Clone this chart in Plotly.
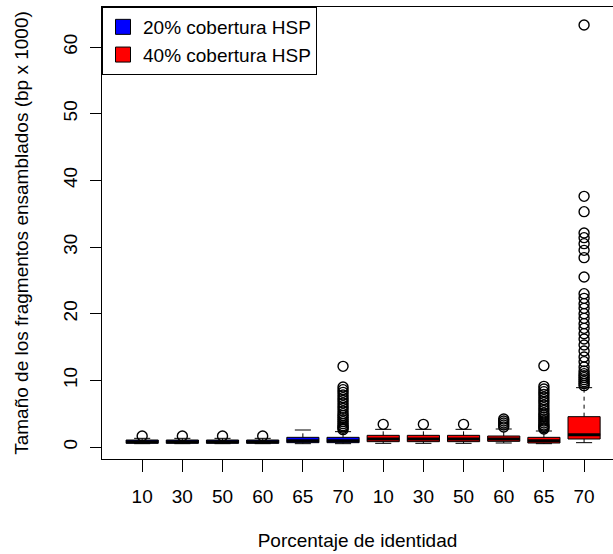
import plotly.graph_objects as go

# ---- data -------------------------------------------------------------
identity_labels = ["10", "30", "50", "60", "65", "70",
                   "10", "30", "50", "60", "65", "70"]
positions = list(range(1, 13))

series_names = ["20% cobertura HSP", "40% cobertura HSP"]
series_colors = ["#0000FF", "#FF0000"]

# box statistics (bp x 1000), 20% coverage
q1_20 = [0.55, 0.55, 0.55, 0.55, 0.65, 0.65]
med_20 = [0.80, 0.80, 0.80, 0.80, 0.95, 0.95]
q3_20 = [1.05, 1.05, 1.05, 1.05, 1.45, 1.45]
lo_20 = [0.50, 0.50, 0.50, 0.50, 0.50, 0.50]
hi_20 = [1.30, 1.30, 1.30, 1.30, 2.55, 2.30]

# box statistics (bp x 1000), 40% coverage
q1_40 = [0.80, 0.80, 0.80, 0.85, 0.60, 1.20]
med_40 = [1.20, 1.20, 1.20, 1.20, 0.95, 1.85]
q3_40 = [1.75, 1.75, 1.75, 1.65, 1.45, 4.55]
lo_40 = [0.55, 0.55, 0.55, 0.60, 0.50, 0.65]
hi_40 = [2.65, 2.65, 2.65, 2.70, 2.40, 8.90]

# outliers per box
out_20 = [
    [1.65], [1.65], [1.65], [1.65], [],
    [12.1, 9.0, 8.6, 8.2, 7.8, 7.4, 7.0, 6.6, 6.2, 5.8, 5.4, 5.0,
     4.7, 4.4, 4.1, 3.8, 3.5, 3.2, 3.0, 2.8, 2.6],
]
out_40 = [
    [3.4], [3.4], [3.4],
    [4.2, 3.9, 3.6, 3.3, 3.0],
    [12.2, 9.1, 8.7, 8.3, 7.9, 7.5, 7.1, 6.7, 6.3, 5.9, 5.5, 5.1,
     4.8, 4.5, 4.2, 3.9, 3.6, 3.3, 3.1, 2.9, 2.7],
    [63.3, 37.6, 35.3, 32.1, 31.4, 30.5, 29.5, 28.4, 25.5, 23.0, 22.3,
     21.5, 20.8, 20.0, 19.3, 18.5, 17.8, 17.0, 16.2, 15.3, 14.4, 13.5,
     12.8, 12.0, 11.4, 11.0, 10.7, 10.4, 10.1, 9.8, 9.5, 9.2],
]

y_ticks = [0, 10, 20, 30, 40, 50, 60]

# ---- assemble -----------------------------------------------------------
q1 = q1_20 + q1_40
med = med_20 + med_40
q3 = q3_20 + q3_40
lo = lo_20 + lo_40
hi = hi_20 + hi_40
outliers = out_20 + out_40

FONT = "Liberation Sans, Arial, sans-serif"
FS = 19
BOX_W = 0.8
CAP_HALF = 0.2

fig = go.Figure()

# boxes (whiskers drawn separately, dashed like R)
for k, (name, color) in enumerate(zip(series_names, series_colors)):
    sl = slice(6 * k, 6 * k + 6)
    fig.add_trace(go.Box(
        x=positions[sl], q1=q1[sl], median=med[sl], q3=q3[sl],
        lowerfence=q1[sl], upperfence=q3[sl],
        width=BOX_W, fillcolor=color, whiskerwidth=0,
        line=dict(color="black", width=1),
        boxpoints=False, showlegend=False, hoverinfo="skip", name=name,
    ))

# dashed whiskers
wx, wy = [], []
for p, a, b, c, d in zip(positions, lo, q1, q3, hi):
    wx += [p, p, None, p, p, None]
    wy += [a, b, None, c, d, None]
fig.add_trace(go.Scatter(x=wx, y=wy, mode="lines",
                         line=dict(color="black", width=1, dash="4px,4px"),
                         showlegend=False, hoverinfo="skip"))

# whisker caps
cx, cy = [], []
for p, a, d in zip(positions, lo, hi):
    cx += [p - CAP_HALF, p + CAP_HALF, None, p - CAP_HALF, p + CAP_HALF, None]
    cy += [a, a, None, d, d, None]
fig.add_trace(go.Scatter(x=cx, y=cy, mode="lines",
                         line=dict(color="black", width=1),
                         showlegend=False, hoverinfo="skip"))

# thick medians
mx, my = [], []
for p, m in zip(positions, med):
    mx += [p - BOX_W / 2, p + BOX_W / 2, None]
    my += [m, m, None]
fig.add_trace(go.Scatter(x=mx, y=my, mode="lines",
                         line=dict(color="black", width=3),
                         showlegend=False, hoverinfo="skip"))

# outliers
ox, oy = [], []
for p, vals in zip(positions, outliers):
    ox += [p] * len(vals)
    oy += vals
fig.add_trace(go.Scatter(x=ox, y=oy, mode="markers",
                         marker=dict(symbol="circle-open", size=10, color="black",
                                     line=dict(width=1.4, color="black")),
                         showlegend=False, hoverinfo="skip", cliponaxis=False))

# legend entries
for name, color in zip(series_names, series_colors):
    fig.add_trace(go.Scatter(x=[None], y=[None], mode="markers", name=name,
                             marker=dict(symbol="square", size=15, color=color,
                                         line=dict(color="black", width=1))))

fig.update_layout(
    width=613, height=554,
    margin=dict(l=102, r=0, t=7, b=95),
    paper_bgcolor="white", plot_bgcolor="white",
    font=dict(family=FONT, size=FS, color="black"),
    boxmode="overlay",
    showlegend=True,
    legend=dict(x=0, y=1, xanchor="left", yanchor="top",
                bgcolor="white", bordercolor="black", borderwidth=1,
                font=dict(size=FS), tracegroupgap=0,
                entrywidth=188, entrywidthmode="pixels"),
)
fig.update_xaxes(
    range=[0.0, 12.72], tickmode="array", tickvals=positions, ticktext=identity_labels,
    showline=True, linecolor="black", linewidth=1, mirror=True,
    ticks="outside", ticklen=12, tickcolor="black", tickwidth=1,
    ticklabelstandoff=8, tickfont=dict(size=FS),
    showgrid=False, zeroline=False,
    title=dict(text="Porcentaje de identidad", standoff=27, font=dict(size=FS)),
)
fig.update_yaxes(
    range=[-1.8, 66], tickmode="array", tickvals=y_ticks,
    showline=True, linecolor="black", linewidth=1,
    ticks="outside", ticklen=11, tickcolor="black", tickwidth=1,
    tickangle=-90, ticklabelstandoff=5, tickfont=dict(size=FS),
    showgrid=False, zeroline=False,
    title=dict(text="Tamaño de los fragmentos ensamblados (bp x 1000)", standoff=26,
               font=dict(size=FS)),
)

fig.write_html("out.html")
